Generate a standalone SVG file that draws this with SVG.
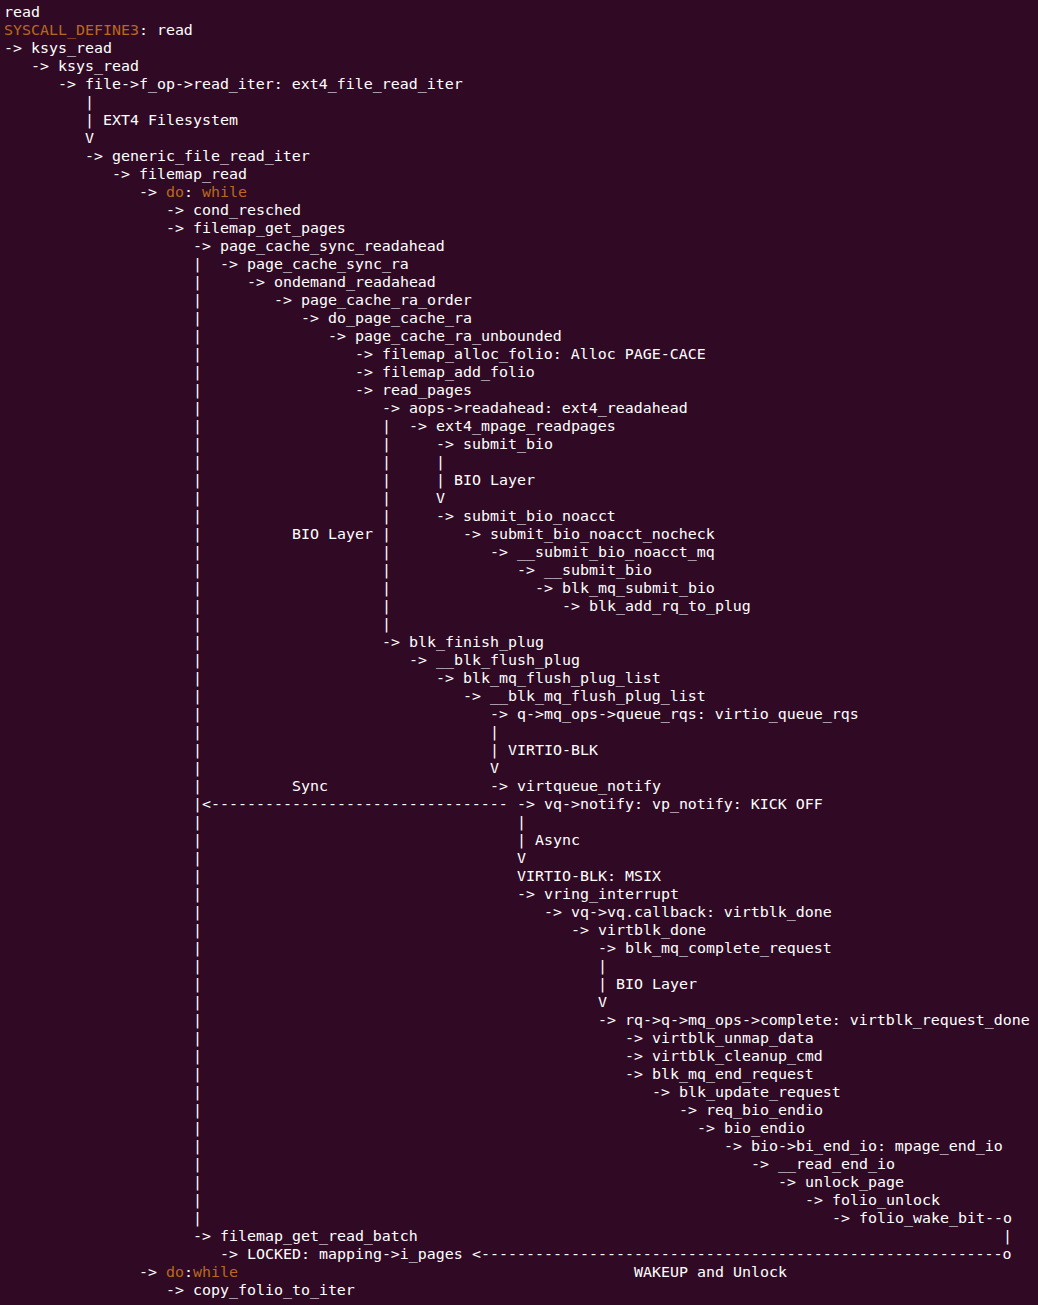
<svg xmlns="http://www.w3.org/2000/svg" width="1038" height="1305" viewBox="0 0 1038 1305">
<style>
text{font-family:"DejaVu Sans Mono","Liberation Mono",monospace;font-size:14.95px;fill:#FFFFFF;white-space:pre}
.o{fill:#B8691E}
</style>
<rect width="1038" height="1305" fill="#300A24"/>
<g id="nodes" xml:space="preserve">
<text id="n0" x="4" y="17">read</text>
<text id="n1" x="4" y="35"><tspan class="o">SYSCALL_DEFINE3</tspan>: read</text>
<text id="n2" x="4" y="53">-&gt; ksys_read</text>
<text id="n3" x="31" y="71">-&gt; ksys_read</text>
<text id="n4" x="58" y="89">-&gt; file-&gt;f_op-&gt;read_iter: ext4_file_read_iter</text>
<text id="n6" x="103" y="125">EXT4 Filesystem</text>
<text id="n8" x="85" y="161">-&gt; generic_file_read_iter</text>
<text id="n9" x="112" y="179">-&gt; filemap_read</text>
<text id="n10" x="139" y="197">-&gt; <tspan class="o">do</tspan>: <tspan class="o">while</tspan></text>
<text id="n11" x="166" y="215">-&gt; cond_resched</text>
<text id="n12" x="166" y="233">-&gt; filemap_get_pages</text>
<text id="n13" x="193" y="251">-&gt; page_cache_sync_readahead</text>
<text id="n14" x="220" y="269">-&gt; page_cache_sync_ra</text>
<text id="n15" x="247" y="287">-&gt; ondemand_readahead</text>
<text id="n16" x="274" y="305">-&gt; page_cache_ra_order</text>
<text id="n17" x="301" y="323">-&gt; do_page_cache_ra</text>
<text id="n18" x="328" y="341">-&gt; page_cache_ra_unbounded</text>
<text id="n19" x="355" y="359">-&gt; filemap_alloc_folio: Alloc PAGE-CACE</text>
<text id="n20" x="355" y="377">-&gt; filemap_add_folio</text>
<text id="n21" x="355" y="395">-&gt; read_pages</text>
<text id="n22" x="382" y="413">-&gt; aops-&gt;readahead: ext4_readahead</text>
<text id="n23" x="409" y="431">-&gt; ext4_mpage_readpages</text>
<text id="n24" x="436" y="449">-&gt; submit_bio</text>
<text id="n26" x="454" y="485">BIO Layer</text>
<text id="n28" x="436" y="521">-&gt; submit_bio_noacct</text>
<text id="n29a" x="292" y="539">BIO Layer</text>
<text id="n29" x="463" y="539">-&gt; submit_bio_noacct_nocheck</text>
<text id="n30" x="490" y="557">-&gt; __submit_bio_noacct_mq</text>
<text id="n31" x="517" y="575">-&gt; __submit_bio</text>
<text id="n32" x="535" y="593">-&gt; blk_mq_submit_bio</text>
<text id="n33" x="562" y="611">-&gt; blk_add_rq_to_plug</text>
<text id="n35" x="382" y="647">-&gt; blk_finish_plug</text>
<text id="n36" x="409" y="665">-&gt; __blk_flush_plug</text>
<text id="n37" x="436" y="683">-&gt; blk_mq_flush_plug_list</text>
<text id="n38" x="463" y="701">-&gt; __blk_mq_flush_plug_list</text>
<text id="n39" x="490" y="719">-&gt; q-&gt;mq_ops-&gt;queue_rqs: virtio_queue_rqs</text>
<text id="n41" x="508" y="755">VIRTIO-BLK</text>
<text id="n43a" x="292" y="791">Sync</text>
<text id="n43" x="490" y="791">-&gt; virtqueue_notify</text>
<text id="n44" x="517" y="809">-&gt; vq-&gt;notify: vp_notify: KICK OFF</text>
<text id="n46" x="535" y="845">Async</text>
<text id="n48" x="517" y="881">VIRTIO-BLK: MSIX</text>
<text id="n49" x="517" y="899">-&gt; vring_interrupt</text>
<text id="n50" x="544" y="917">-&gt; vq-&gt;vq.callback: virtblk_done</text>
<text id="n51" x="571" y="935">-&gt; virtblk_done</text>
<text id="n52" x="598" y="953">-&gt; blk_mq_complete_request</text>
<text id="n54" x="616" y="989">BIO Layer</text>
<text id="n56" x="598" y="1025">-&gt; rq-&gt;q-&gt;mq_ops-&gt;complete: virtblk_request_done</text>
<text id="n57" x="625" y="1043">-&gt; virtblk_unmap_data</text>
<text id="n58" x="625" y="1061">-&gt; virtblk_cleanup_cmd</text>
<text id="n59" x="625" y="1079">-&gt; blk_mq_end_request</text>
<text id="n60" x="652" y="1097">-&gt; blk_update_request</text>
<text id="n61" x="679" y="1115">-&gt; req_bio_endio</text>
<text id="n62" x="697" y="1133">-&gt; bio_endio</text>
<text id="n63" x="724" y="1151">-&gt; bio-&gt;bi_end_io: mpage_end_io</text>
<text id="n64" x="751" y="1169">-&gt; __read_end_io</text>
<text id="n65" x="778" y="1187">-&gt; unlock_page</text>
<text id="n66" x="805" y="1205">-&gt; folio_unlock</text>
<text id="n67" x="832" y="1223">-&gt; folio_wake_bit</text>
<text id="n68" x="193" y="1241">-&gt; filemap_get_read_batch</text>
<text id="n69" x="220" y="1259">-&gt; LOCKED: mapping-&gt;i_pages</text>
<text id="n70" x="139" y="1277">-&gt; <tspan class="o">do</tspan>:<tspan class="o">while</tspan></text>
<text id="n70a" x="634" y="1277">WAKEUP and Unlock</text>
<text id="n71" x="166" y="1295">-&gt; copy_folio_to_iter</text>
</g>
<g id="connectors" xml:space="preserve">
<text x="85" y="107">|</text>
<text x="85" y="125">|</text>
<text x="85" y="143">V</text>
<text x="193" y="269">|</text><text x="193" y="287">|</text><text x="193" y="305">|</text><text x="193" y="323">|</text>
<text x="193" y="341">|</text><text x="193" y="359">|</text><text x="193" y="377">|</text><text x="193" y="395">|</text>
<text x="193" y="413">|</text><text x="193" y="431">|</text><text x="193" y="449">|</text><text x="193" y="467">|</text>
<text x="193" y="485">|</text><text x="193" y="503">|</text><text x="193" y="521">|</text><text x="193" y="539">|</text>
<text x="193" y="557">|</text><text x="193" y="575">|</text><text x="193" y="593">|</text><text x="193" y="611">|</text>
<text x="193" y="629">|</text><text x="193" y="647">|</text><text x="193" y="665">|</text><text x="193" y="683">|</text>
<text x="193" y="701">|</text><text x="193" y="719">|</text><text x="193" y="737">|</text><text x="193" y="755">|</text>
<text x="193" y="773">|</text><text x="193" y="791">|</text>
<text x="193" y="809">|&lt;---------------------------------</text>
<text x="193" y="827">|</text><text x="193" y="845">|</text><text x="193" y="863">|</text><text x="193" y="881">|</text>
<text x="193" y="899">|</text><text x="193" y="917">|</text><text x="193" y="935">|</text><text x="193" y="953">|</text>
<text x="193" y="971">|</text><text x="193" y="989">|</text><text x="193" y="1007">|</text><text x="193" y="1025">|</text>
<text x="193" y="1043">|</text><text x="193" y="1061">|</text><text x="193" y="1079">|</text><text x="193" y="1097">|</text>
<text x="193" y="1115">|</text><text x="193" y="1133">|</text><text x="193" y="1151">|</text><text x="193" y="1169">|</text>
<text x="193" y="1187">|</text><text x="193" y="1205">|</text><text x="193" y="1223">|</text>
<text x="382" y="431">|</text><text x="382" y="449">|</text><text x="382" y="467">|</text><text x="382" y="485">|</text>
<text x="382" y="503">|</text><text x="382" y="521">|</text><text x="382" y="539">|</text><text x="382" y="557">|</text>
<text x="382" y="575">|</text><text x="382" y="593">|</text><text x="382" y="611">|</text><text x="382" y="629">|</text>
<text x="436" y="467">|</text>
<text x="436" y="485">|</text>
<text x="436" y="503">V</text>
<text x="490" y="737">|</text>
<text x="490" y="755">|</text>
<text x="490" y="773">V</text>
<text x="517" y="827">|</text>
<text x="517" y="845">|</text>
<text x="517" y="863">V</text>
<text x="598" y="971">|</text>
<text x="598" y="989">|</text>
<text x="598" y="1007">V</text>
<text x="985" y="1223">--o</text>
<text x="1003" y="1241">|</text>
<text x="472" y="1259">&lt;----------------------------------------------------------o</text>
</g>
</svg>
